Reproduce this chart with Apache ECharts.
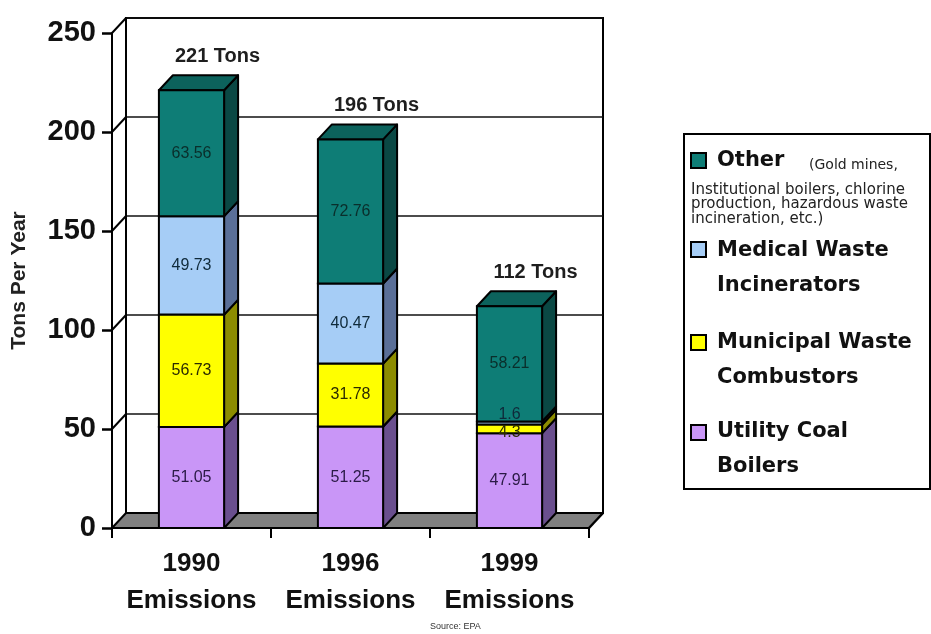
<!DOCTYPE html>
<html>
<head>
<meta charset="utf-8">
<title>Mercury Emissions by Source</title>
<script src="https://cdn.jsdelivr.net/npm/echarts@6/dist/echarts.min.js"></script>
<style>
  html, body { margin: 0; padding: 0; background: #fff; }
  #chart { width: 931px; height: 634px; }
</style>
</head>
<body>
<div id="chart"></div>
<script>
// ---- data ----
const categories = ['1990\nEmissions', '1996\nEmissions', '1999\nEmissions'];
const utilityCoal = [51.05, 51.25, 47.91];
const municipalWaste = [56.73, 31.78, 4.3];
const medicalWaste = [49.73, 40.47, 1.6];
const other = [63.56, 72.76, 58.21];
const yTicks = [0, 50, 100, 150, 200, 250];
const sourceNote = 'Source: EPA';

// stacking order, bottom to top
const stackOrder = [
  { name: 'Utility Coal Boilers', values: utilityCoal },
  { name: 'Municipal Waste Combustors', values: municipalWaste },
  { name: 'Medical Waste Incinerators', values: medicalWaste },
  { name: 'Other', values: other }
];

// ---- styles ----
// shortNudge: vertical shift of a value label when its segment is too thin to hold it
const faces = {
  'Utility Coal Boilers':       { front: '#c996f7', side: '#6a4f8e', top: '#9b74c6', text: '#2a1a45', shortNudge: 0 },
  'Municipal Waste Combustors': { front: '#ffff00', side: '#8c8c00', top: '#c4c400', text: '#2b2b00', shortNudge: 4 },
  'Medical Waste Incinerators': { front: '#a6cdf6', side: '#5a6f98', top: '#7f9cc6', text: '#0f2a3a', shortNudge: -8 },
  'Other':                      { front: '#0e7d76', side: '#0a4844', top: '#0c625c', text: '#0a2e2b', shortNudge: 0 }
};
const DX = 14, DY = 15;          // depth offset of the 3D look
const BAR_RATIO = 0.41;          // bar width as share of the category band
const EDGE = '#000';
const FONT = '"Liberation Sans", Arial, sans-serif';

// cumulative bases for the stacks
const stackedSeries = [];
const runningBase = categories.map(() => 0);
stackOrder.forEach(s => {
  const items = s.values.map((v, i) => {
    const lo = runningBase[i];
    runningBase[i] += v;
    return [i, lo, lo + v, v];
  });
  stackedSeries.push({ name: s.name, items });
});
const totals = runningBase.slice();

function segmentRenderer(style) {
  return function (params, api) {
    const ci = api.value(0), lo = api.value(1), hi = api.value(2), v = api.value(3);
    const a = api.coord([ci, lo]);
    const b = api.coord([ci, hi]);
    const w = api.size([1, 0])[0] * BAR_RATIO;
    const x0 = a[0] - w / 2, x1 = a[0] + w / 2;
    const yb = a[1], yt = b[1];
    const labelY = (yb + yt) / 2 + ((yb - yt) < 14 ? style.shortNudge : 0);
    return {
      type: 'group',
      children: [
        {
          type: 'polygon',
          shape: { points: [[x1, yb], [x1 + DX, yb - DY], [x1 + DX, yt - DY], [x1, yt]] },
          style: { fill: style.side, stroke: EDGE, lineWidth: 2, lineJoin: 'round' }
        },
        {
          type: 'polygon',
          shape: { points: [[x0, yt], [x0 + DX, yt - DY], [x1 + DX, yt - DY], [x1, yt]] },
          style: { fill: style.top, stroke: EDGE, lineWidth: 2, lineJoin: 'round' }
        },
        {
          type: 'rect',
          shape: { x: x0, y: yt, width: w, height: yb - yt },
          style: { fill: style.front, stroke: EDGE, lineWidth: 2 }
        },
        {
          type: 'text',
          z2: 20,
          x: a[0], y: labelY,
          style: {
            text: String(v), fill: style.text, font: '16px ' + FONT,
            align: 'center', verticalAlign: 'middle'
          }
        }
      ]
    };
  };
}

const series = [];

// floor of the plot
series.push({
  type: 'custom',
  name: 'floor',
  z: 1,
  silent: true,
  data: [[0, 0]],
  encode: { x: 0, y: 1 },
  renderItem: function (params, api) {
    const first = api.coord([0, 0]);
    const last = api.coord([categories.length - 1, 0]);
    const half = api.size([1, 0])[0] / 2;
    const xl = first[0] - half, xr = last[0] + half, y = first[1];
    return {
      type: 'group',
      children: [
        {
          type: 'polygon',
          shape: { points: [[xl, y], [xr, y], [xr + DX, y - DY], [xl + DX, y - DY]] },
          style: { fill: '#808080', stroke: null }
        },
        {
          type: 'polyline',
          shape: { points: [[xl + DX, y - DY], [xr + DX, y - DY]] },
          style: { stroke: EDGE, lineWidth: 2, fill: null }
        },
        {
          type: 'line',
          shape: { x1: xr, y1: y, x2: xr + DX, y2: y - DY },
          style: { stroke: EDGE, lineWidth: 2.5 }
        }
      ]
    };
  }
});

// side-wall gridlines joining the front axis to the back wall
series.push({
  type: 'custom',
  name: 'sidewall',
  z: 2,
  silent: true,
  data: yTicks.map(v => [0, v]),
  encode: { x: 0, y: 1 },
  renderItem: function (params, api) {
    const p = api.coord([0, api.value(1)]);
    const x = p[0] - api.size([1, 0])[0] / 2;
    return {
      type: 'line',
      shape: { x1: x, y1: p[1], x2: x + DX, y2: p[1] - DY },
      style: { stroke: EDGE, lineWidth: 2 }
    };
  }
});

// stacked 3D bars
stackedSeries.forEach(s => {
  series.push({
    type: 'custom',
    name: s.name,
    z: 3,
    data: s.items,
    encode: { x: 0, y: [1, 2] },
    renderItem: segmentRenderer(faces[s.name])
  });
});

// stack totals above each bar
series.push({
  type: 'custom',
  name: 'totals',
  z: 4,
  silent: true,
  data: totals.map((t, i) => [i, t]),
  encode: { x: 0, y: 1 },
  renderItem: function (params, api) {
    const p = api.coord([api.value(0), api.value(1)]);
    return {
      type: 'text',
      x: p[0] + 26, y: p[1] - 34,
      style: {
        text: Math.round(api.value(1)) + ' Tons',
        font: 'bold 20px ' + FONT, fill: '#1e1e1e',
        align: 'center', verticalAlign: 'middle'
      }
    };
  }
});

// ---- legend box ----
const legendBlocks = [
  { key: 'Other', swatchY: 27, lines: [{ t: 'Other', y: 27 }] },
  { key: 'Medical Waste Incinerators', swatchY: 116, lines: [{ t: 'Medical Waste', y: 117 }, { t: 'Incinerators', y: 152 }] },
  { key: 'Municipal Waste Combustors', swatchY: 209, lines: [{ t: 'Municipal Waste', y: 209 }, { t: 'Combustors', y: 244 }] },
  { key: 'Utility Coal Boilers', swatchY: 299, lines: [{ t: 'Utility Coal', y: 298 }, { t: 'Boilers', y: 333 }] }
];
const otherNote = ['Institutional boilers, chlorine', 'production, hazardous waste', 'incineration, etc.)'];

const legendChildren = [
  {
    type: 'rect',
    shape: { x: 0, y: 0, width: 246, height: 355 },
    style: { fill: '#fff', stroke: '#000', lineWidth: 2 }
  }
];
legendBlocks.forEach(b => {
  legendChildren.push({
    type: 'rect',
    shape: { x: 7, y: b.swatchY - 8, width: 15, height: 15 },
    style: { fill: faces[b.key].front, stroke: '#000', lineWidth: 2 }
  });
  b.lines.forEach(l => {
    legendChildren.push({
      type: 'text', x: 33, y: l.y,
      style: {
        text: l.t, font: 'bold 21px "DejaVu Sans", sans-serif', fill: '#111',
        align: 'left', verticalAlign: 'middle'
      }
    });
  });
});
legendChildren.push({
  type: 'text', x: 125, y: 31,
  style: { text: '(Gold mines,', font: '14px "DejaVu Sans", sans-serif', fill: '#222', align: 'left', verticalAlign: 'middle' }
});
otherNote.forEach((t, k) => {
  legendChildren.push({
    type: 'text', x: 7, y: 56 + k * 14.5,
    style: { text: t, font: '15px "DejaVu Sans", sans-serif', fill: '#222', align: 'left', verticalAlign: 'middle' }
  });
});

const option = {
  animation: false,
  backgroundColor: '#fff',
  grid: [
    { left: 112, top: 33, width: 477, height: 495 },
    { left: 126, top: 18, width: 477, height: 495, show: true, backgroundColor: '#fff', borderColor: '#000', borderWidth: 2 }
  ],
  xAxis: [
    {
      type: 'category', gridIndex: 0, data: categories, z: 5,
      axisLine: { lineStyle: { color: '#000', width: 2 } },
      axisTick: { show: true, interval: 0, length: 10, lineStyle: { color: '#000', width: 2 } },
      axisLabel: { interval: 0, color: '#111', fontFamily: FONT, fontWeight: 'bold', fontSize: 26, lineHeight: 37, margin: 17 },
      splitLine: { show: false }
    },
    {
      type: 'category', gridIndex: 1, data: categories,
      axisLine: { show: false }, axisTick: { show: false }, axisLabel: { show: false },
      splitLine: { show: false }
    }
  ],
  yAxis: [
    {
      type: 'value', gridIndex: 0, min: 0, max: 250, interval: 50, z: 5,
      name: 'Tons Per Year', nameLocation: 'middle', nameRotate: 90, nameGap: 82,
      nameTextStyle: { color: '#222', fontFamily: FONT, fontWeight: 'bold', fontSize: 21 },
      axisLine: { show: true, lineStyle: { color: '#000', width: 2 } },
      axisTick: { show: true, length: 10, lineStyle: { color: '#000', width: 2.5 } },
      axisLabel: { color: '#111', fontFamily: FONT, fontWeight: 'bold', fontSize: 29, margin: 16 },
      splitLine: { show: false }
    },
    {
      type: 'value', gridIndex: 1, min: 0, max: 250, interval: 50,
      axisLine: { show: true, lineStyle: { color: '#000', width: 2 } },
      axisTick: { show: false }, axisLabel: { show: false },
      splitLine: { show: true, lineStyle: { color: '#111', width: 1.5 } }
    }
  ],
  graphic: [
    { type: 'group', left: 683, top: 133, children: legendChildren },
    {
      type: 'text', left: 430, top: 622,
      style: { text: sourceNote, font: '9px ' + FONT, fill: '#333' }
    }
  ],
  series: series
};

const chart = echarts.init(document.getElementById('chart'), null, { renderer: 'canvas' });
chart.setOption(option);
</script>
</body>
</html>
